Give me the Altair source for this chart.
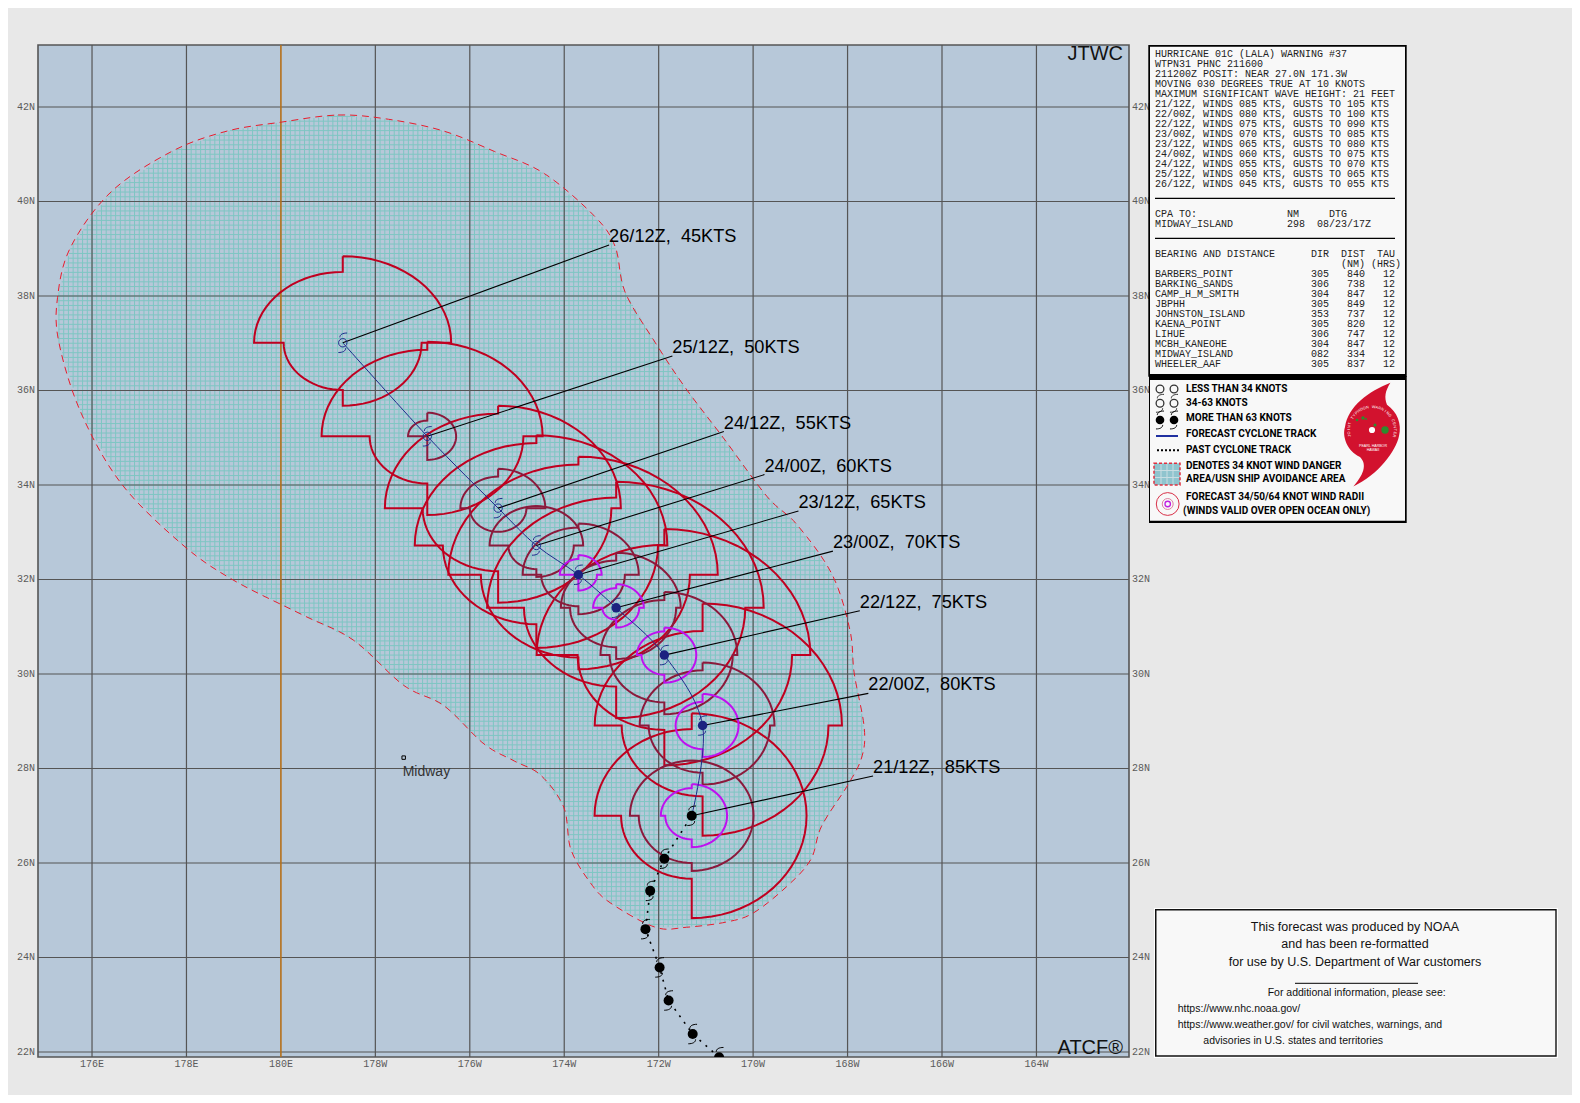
import math
import numpy as np
import pandas as pd
import altair as alt

alt.data_transformers.disable_max_rows()

# ---- frame -------------------------------------------------------------
OX, OY = 38, 45          # page position of the plot area
W, H = 1091, 1012
LON_DOMAIN = [174.856, 197.96]
LAT_DOMAIN = [21.894, 43.312]
BG = "#E8E8E8"
SEA = "#B7C8D9"

grid_lon = [176, 178, 180, 182, 184, 186, 188, 190, 192, 194, 196]
grid_lat = [22, 24, 26, 28, 30, 32, 34, 36, 38, 40, 42]
lon_names = ["176E", "178E", "180E", "178W", "176W", "174W", "172W", "170W", "168W", "166W", "164W"]
lat_names = ["22N", "24N", "26N", "28N", "30N", "32N", "34N", "36N", "38N", "40N", "42N"]

# ---- 34 kt danger area boundary ------------------------------------------
danger_lon = [180.01, 181.21, 182.28, 183.45, 184.52, 185.58, 186.65, 187.08, 187.29, 187.93, 188.57,
              189.36, 190.30, 190.92, 191.67, 192.05, 192.14, 192.35, 192.31, 192.03, 191.45, 191.22,
              190.71, 190.00, 189.43, 188.59, 187.93, 186.97, 186.54, 186.14, 185.99, 185.50, 184.94,
              184.30, 183.45, 182.60, 181.53, 180.46, 178.97, 177.90, 176.62, 175.77, 175.30, 175.27,
              175.55, 176.41, 177.69, 178.86]
danger_lat = [41.68, 41.83, 41.74, 41.49, 41.06, 40.59, 39.68, 39.04, 38.08, 37.01, 36.05,
              35.01, 33.75, 33.17, 32.11, 30.93, 30.02, 28.89, 28.27, 27.69, 26.78, 26.07,
              25.50, 24.94, 24.75, 24.64, 24.64, 25.16, 25.60, 26.29, 27.18, 27.86, 28.16,
              28.52, 29.33, 29.76, 30.72, 31.25, 32.00, 32.75, 34.03, 35.52, 37.01, 37.97,
              39.04, 40.21, 41.06, 41.49]

# ---- track ----------------------------------------------------------------
past_lon = [189.28, 188.72, 188.21, 188.02, 187.72, 187.82, 188.12, 188.70]
past_lat = [21.89, 22.38, 23.09, 23.79, 24.60, 25.41, 26.09, 27.00]
fc_lon = [188.70, 188.93, 188.12, 187.10, 186.30, 185.41, 184.60, 183.10, 181.31]
fc_lat = [27.00, 28.91, 30.40, 31.40, 32.10, 32.72, 33.51, 35.03, 37.01]
fc_labels = ["21/12Z,  85KTS", "22/00Z,  80KTS", "22/12Z,  75KTS", "23/00Z,  70KTS", "23/12Z,  65KTS",
             "24/00Z,  60KTS", "24/12Z,  55KTS", "25/12Z,  50KTS", "26/12Z,  45KTS"]
lead_lon = [192.54, 192.44, 192.26, 191.69, 190.96, 190.24, 189.38, 188.29, 186.95]
lead_lat = [27.84, 29.59, 31.34, 32.60, 33.45, 34.22, 35.13, 36.73, 39.08]

# ---- wind radii, nautical miles, NE / SE / SW / NW -------------------------
r34 = [[130, 130, 80, 110], [155, 140, 90, 120], [160, 140, 95, 140], [160, 140, 100, 140], [150, 120, 105, 140],
       [140, 130, 100, 130], [130, 120, 80, 120], [120, 100, 60, 110], [110, 80, 60, 90]]
r50 = [[70, 70, 60, 70], [80, 75, 60, 70], [80, 75, 60, 70], [70, 65, 50, 60], [65, 50, 40, 60],
       [50, 40, 30, 50], [50, 30, 30, 40], [30, 30, 0, 20]]
r64 = [[40, 40, 30, 35], [40, 40, 30, 30], [35, 35, 25, 30], [30, 25, 15, 25], [25, 20, 0, 20]]

# ---- side panel text -------------------------------------------------------
info_lines = [
    "HURRICANE 01C (LALA) WARNING #37",
    "WTPN31 PHNC 211600",
    "211200Z POSIT: NEAR 27.0N 171.3W",
    "MOVING 030 DEGREES TRUE AT 10 KNOTS",
    "MAXIMUM SIGNIFICANT WAVE HEIGHT: 21 FEET",
    "21/12Z, WINDS 085 KTS, GUSTS TO 105 KTS",
    "22/00Z, WINDS 080 KTS, GUSTS TO 100 KTS",
    "22/12Z, WINDS 075 KTS, GUSTS TO 090 KTS",
    "23/00Z, WINDS 070 KTS, GUSTS TO 085 KTS",
    "23/12Z, WINDS 065 KTS, GUSTS TO 080 KTS",
    "24/00Z, WINDS 060 KTS, GUSTS TO 075 KTS",
    "24/12Z, WINDS 055 KTS, GUSTS TO 070 KTS",
    "25/12Z, WINDS 050 KTS, GUSTS TO 065 KTS",
    "26/12Z, WINDS 045 KTS, GUSTS TO 055 KTS",
]
cpa_lines = ["CPA TO:               NM     DTG",
             "MIDWAY_ISLAND         298  08/23/17Z"]
bearing_head = "BEARING AND DISTANCE      DIR  DIST  TAU"
bearing_units = "(NM) (HRS)"
bearing_rows = [
    "BARBERS_POINT             305   840   12",
    "BARKING_SANDS             306   738   12",
    "CAMP_H_M_SMITH            304   847   12",
    "JBPHH                     305   849   12",
    "JOHNSTON_ISLAND           353   737   12",
    "KAENA_POINT               305   820   12",
    "LIHUE                     306   747   12",
    "MCBH_KANEOHE              304   847   12",
    "MIDWAY_ISLAND             082   334   12",
    "WHEELER_AAF               305   837   12",
]
legend_lines = ["LESS THAN 34 KNOTS", "34-63 KNOTS", "MORE THAN 63 KNOTS", "FORECAST CYCLONE TRACK",
                "PAST CYCLONE TRACK", "DENOTES 34 KNOT WIND DANGER", "AREA/USN SHIP AVOIDANCE AREA",
                "FORECAST 34/50/64 KNOT WIND RADII", "(WINDS VALID OVER OPEN OCEAN ONLY)"]

ARMS = "M-0.3,-0.55 C-0.3,-0.85 0,-1 0.45,-1 M0.3,0.55 C0.3,0.85 0,1 -0.45,1"
SWIRL = ("M0.306,-0.789 C0.22,-0.65 0.2,-0.55 0.25,-0.42 C0.42,-0.3 0.5,-0.1 0.45,0.1 "
         "C0.4,0.35 0.1,0.75 -0.31,0.94 C-0.1,0.7 -0.1,0.55 -0.2,0.45 C-0.42,0.35 -0.5,0.1 -0.45,-0.05 "
         "C-0.4,-0.4 -0.05,-0.65 0.306,-0.789 Z")
NBSP = "\u00a0"

xs = alt.Scale(domain=LON_DOMAIN, nice=False, zero=False)
ys = alt.Scale(domain=LAT_DOMAIN, nice=False, zero=False)
X = alt.X("lon:Q", scale=xs, axis=None)
Y = alt.Y("lat:Q", scale=ys, axis=None)
one = alt.Data(values=[{"a": 1}])


# ---- helpers -----------------------------------------------------------------
def txt(s, x, y, size=10, font="Liberation Sans", color="#000000", align="left", weight="normal", angle=0):
    return alt.Chart(one).mark_text(text=s, font=font, fontSize=size, color=color, align=align,
                                    baseline="middle", fontWeight=weight, angle=angle).encode(
        x=alt.value(x - OX), y=alt.value(y - OY))


def box(x0, y0, x1, y1, fill, **kw):
    return alt.Chart(one).mark_rect(fill=fill, **kw).encode(
        x=alt.value(x0 - OX), x2=alt.value(x1 - OX), y=alt.value(y0 - OY), y2=alt.value(y1 - OY))


def seg(x0, y0, x1, y1, color="#000000", width=1, **kw):
    return alt.Chart(one).mark_rule(color=color, strokeWidth=width, **kw).encode(
        x=alt.value(x0 - OX), x2=alt.value(x1 - OX), y=alt.value(y0 - OY), y2=alt.value(y1 - OY))


def sym(x, y, shape, size, color, filled=True, width=1):
    kw = dict(shape=shape, size=size, opacity=1)
    if filled:
        kw.update(filled=True, fill=color)
    else:
        kw.update(filled=False, stroke=color, strokeWidth=width)
    return alt.Chart(one).mark_point(**kw).encode(x=alt.value(x - OX), y=alt.value(y - OY))


def rings(table, color):
    rows = []
    for i, radii in enumerate(table):
        clon, clat = fc_lon[i], fc_lat[i]
        coslat = math.cos(math.radians(clat))
        pts = []
        for q, r in enumerate(radii):
            for b in range(q * 90, q * 90 + 91, 5):
                a = math.radians(b)
                pts.append((clon + r / 60 / coslat * math.sin(a), clat + r / 60 * math.cos(a)))
        pts.append(pts[0])
        for k, (lo, la) in enumerate(pts):
            rows.append({"ring": i, "k": k, "lon": lo, "lat": la})
    return alt.Chart(pd.DataFrame(rows)).mark_line(color=color, strokeWidth=2, strokeJoin="miter").encode(
        x=X, y=Y, detail="ring:N", order="k:Q")


# ---- mesh of the danger area ---------------------------------------------------
def crossings(a, b, level):
    out = []
    n = len(a)
    for i in range(n):
        a0, b0, a1, b1 = a[i], b[i], a[(i + 1) % n], b[(i + 1) % n]
        if (b0 <= level) != (b1 <= level):
            out.append(a0 + (level - b0) / (b1 - b0) * (a1 - a0))
    return sorted(out)


h_rows, v_rows = [], []
for la in np.arange(24.6, 42.0, 0.1):
    c = crossings(danger_lon, danger_lat, float(la))
    for p, q in zip(c[0::2], c[1::2]):
        h_rows.append({"lat": float(la), "lon": p, "lon2": q})
for lo in np.arange(175.2, 192.5, 0.1):
    c = crossings(danger_lat, danger_lon, float(lo))
    for p, q in zip(c[0::2], c[1::2]):
        v_rows.append({"lon": float(lo), "lat": p, "lat2": q})

MESH = "#7EC6C3"
mesh_h = alt.Chart(pd.DataFrame(h_rows)).mark_rule(color=MESH, strokeWidth=1).encode(x=X, x2="lon2:Q", y=Y)
mesh_v = alt.Chart(pd.DataFrame(v_rows)).mark_rule(color=MESH, strokeWidth=1).encode(x=X, y=Y, y2="lat2:Q")

danger_df = pd.DataFrame({"lon": danger_lon, "lat": danger_lat, "k": range(len(danger_lon))})
danger_line = alt.Chart(danger_df).mark_line(color="#E81C2C", strokeWidth=1, strokeDash=[7, 5],
                                             interpolate="cardinal-closed").encode(x=X, y=Y, order="k:Q")

# ---- grid and tick labels --------------------------------------------------------
LABEL = dict(font="Liberation Mono", fontSize=10, color="#5A5A5A", baseline="middle")
lon_df = pd.DataFrame({"lon": grid_lon, "s": lon_names})
lat_df = pd.DataFrame({"lat": grid_lat, "s": lat_names})
grid_v = alt.Chart(lon_df[lon_df.lon != 180]).mark_rule(color="#555555", strokeWidth=1.2).encode(x=X)
grid_h = alt.Chart(lat_df).mark_rule(color="#555555", strokeWidth=1.2).encode(y=Y)
date_line = alt.Chart(pd.DataFrame({"lon": [180]})).mark_rule(color="#B5701A", strokeWidth=1.6).encode(x=X)
right_labels = alt.Chart(lat_df).mark_text(align="left", **LABEL).encode(x=alt.value(W + 3), y=Y, text="s:N")
left_labels = alt.Chart(lat_df).mark_text(align="right", **LABEL).encode(x=alt.value(-3), y=Y, text="s:N")
bottom_labels = alt.Chart(lon_df).mark_text(align="center", **LABEL).encode(x=X, y=alt.value(H + 7), text="s:N")

# ---- track and symbols ---------------------------------------------------------
past_df = pd.DataFrame({"lon": past_lon, "lat": past_lat, "k": range(len(past_lon))})
fc_df = pd.DataFrame({"lon": fc_lon, "lat": fc_lat, "k": range(len(fc_lon)),
                      "label": [s.replace(" ", NBSP) for s in fc_labels],
                      "lon2": lead_lon, "lat2": lead_lat})
past_track = alt.Chart(past_df).mark_line(color="#000000", strokeWidth=1.6, strokeDash=[2, 6], clip=True).encode(
    x=X, y=Y, order="k:Q")
fc_track = alt.Chart(fc_df).mark_line(color="#1E2A8C", strokeWidth=1, interpolate="cardinal").encode(
    x=X, y=Y, order="k:Q")
leaders = alt.Chart(fc_df).mark_rule(color="#000000", strokeWidth=1.1).encode(x=X, y=Y, x2="lon2:Q", y2="lat2:Q")
labels = alt.Chart(fc_df).mark_text(font="Liberation Sans", fontSize=18.2, color="#000000", align="left",
                                    baseline="middle", dy=-8).encode(
    x=alt.X("lon2:Q", scale=xs, axis=None), y=alt.Y("lat2:Q", scale=ys, axis=None), text="label:N")

navy_df = fc_df.iloc[1:5][["lon", "lat"]]
open_df = fc_df.iloc[5:][["lon", "lat"]]
marks_sym = [
    alt.Chart(past_df).mark_point(shape=ARMS, size=380, filled=False, stroke="#000000", strokeWidth=1, opacity=1,
                                  clip=True).encode(x=X, y=Y),
    alt.Chart(past_df).mark_circle(size=100, color="#000000", opacity=1, clip=True).encode(x=X, y=Y),
    alt.Chart(navy_df).mark_point(shape=ARMS, size=380, filled=False, stroke="#1E2A8C", strokeWidth=1,
                                  opacity=1).encode(x=X, y=Y),
    alt.Chart(navy_df).mark_circle(size=90, color="#1C2280", opacity=1).encode(x=X, y=Y),
    alt.Chart(open_df).mark_point(shape=ARMS, size=380, filled=False, stroke="#1E2A8C", strokeWidth=1,
                                  opacity=1).encode(x=X, y=Y),
    alt.Chart(open_df).mark_point(shape="circle", size=70, filled=False, stroke="#1E2A8C", strokeWidth=1,
                                  opacity=1).encode(x=X, y=Y),
]

midway_df = pd.DataFrame({"lon": [182.6], "lat": [28.23]})
midway = [
    alt.Chart(midway_df).mark_point(shape="square", size=12, filled=False, stroke="#000000", strokeWidth=1,
                                    opacity=1).encode(x=X, y=Y),
    alt.Chart(midway_df).mark_text(text="Midway", font="Liberation Sans", fontSize=14, color="#333333",
                                   align="left", baseline="middle", dx=-1, dy=14).encode(x=X, y=Y),
]

# ---- text panels -----------------------------------------------------------------
panels = [box(1148.3, 45, 1406.7, 376.7, "#000000"), box(1150, 46.7, 1405, 374, "#F8F8F8")]
MONO = dict(font="Liberation Mono", size=10, color="#222222")


def mono(s, y, x=1155):
    return txt(s.replace(" ", NBSP), x, y, **MONO)


for i, s in enumerate(info_lines):
    panels.append(mono(s, 54 + 10 * i))
panels.append(seg(1155, 198.3, 1395, 198.3, width=1.2))
for i, s in enumerate(cpa_lines):
    panels.append(mono(s, 214 + 10 * i))
panels.append(seg(1155, 238.3, 1395, 238.3, width=1.2))
panels.append(mono(bearing_head, 253.7))
panels.append(mono(bearing_units, 263.7, x=1341))
for i, s in enumerate(bearing_rows):
    panels.append(mono(s, 274 + 10 * i))

panels += [box(1149, 376, 1406.7, 523, "#000000"), box(1150, 380, 1405, 520.7, "#F8F8F8")]
leg_y = [389.3, 403.3, 417.7, 434.3, 450, 466, 479.3, 496.7, 510.7]
leg_x = [1186, 1186, 1186, 1186, 1186, 1186, 1186, 1186, 1183]
for s, x, y in zip(legend_lines, leg_x, leg_y):
    panels.append(txt(s, x, y, size=10, font="Roboto", weight="bold"))
for cx in (1160, 1174):
    panels.append(sym(cx, 389, "circle", 60, "#333333", filled=False, width=1.3))
    panels.append(sym(cx, 403.3, "circle", 60, "#333333", filled=False, width=1.3))
    panels.append(sym(cx, 403.3, ARMS, 320, "#333333", filled=False, width=1))
    panels.append(sym(cx, 420, ARMS, 320, "#111111", filled=False, width=1))
    panels.append(sym(cx, 420, "circle", 75, "#000000"))
panels.append(seg(1156, 436, 1178, 436, color="#2030A0", width=2))
panels.append(seg(1157, 450.3, 1180, 450.3, color="#000000", width=2, strokeDash=[2, 2]))
panels.append(box(1154, 463.3, 1180, 485, "#8FC4CE", stroke="#E03040", strokeDash=[3, 2], strokeWidth=1.5))
for gy in (470.5, 477.5):
    panels.append(seg(1155, gy, 1179, gy, color="#C8DDE2", width=1))
for gx in (1161, 1167, 1173):
    panels.append(seg(gx, 464, gx, 484, color="#C8DDE2", width=1))
panels.append(sym(1167.7, 504, "circle", 520, "#D83048", filled=False, width=1))
panels.append(sym(1167.7, 504, "circle", 120, "#E080A0", filled=False, width=1))
panels.append(sym(1167.7, 504, "circle", 30, "#C020E0", filled=False, width=1.3))
# logo
LX, LY = 1372, 430
panels.append(sym(LX, LY, SWIRL, 14400, "#D2122E"))
panels.append(sym(LX + 0.5, LY + 0.5, "circle", 2290, "#D2122E"))
for dx, dy, sz in [(13, 0, 55), (-9, -12, 12), (-15, -10, 7), (3, -5, 9), (-6, -11, 4)]:
    panels.append(sym(LX + dx, LY + dy, "circle", sz, "#2E8B2E"))
panels.append(sym(LX, LY, "circle", 38, "#FFFFFF"))
panels.append(txt("PEARL HARBOR", LX + 1, LY + 16, size=3.6, color="#FFFFFF", align="center"))
panels.append(txt("HAWAII", LX + 1, LY + 20, size=3.6, color="#FFFFFF", align="center"))
arc_text = "JOINT TYPHOON WARNING CENTER"
for i, ch in enumerate(arc_text):
    if ch == " ":
        continue
    deg = -105 + 210 * i / (len(arc_text) - 1)
    a = math.radians(deg)
    panels.append(txt(ch, LX + 23 * math.sin(a), LY - 23 * math.cos(a), size=3.8, color="#FFFFFF", align="center",
                      angle=deg % 360))

panels += [box(1154, 908, 1558, 1058, "#FFFFFF"), box(1155, 909, 1556.7, 1056.7, "#111111"),
           box(1156.5, 910.5, 1555.3, 1055.2, "#F8F8F8")]
ARIAL = "Liberation Sans"
for s, y in [("This forecast was produced by NOAA", 926.7), ("and has been re-formatted", 944.3),
             ("for use by U.S. Department of War customers", 961.7)]:
    panels.append(txt(s, 1355, y, size=12.5, font=ARIAL, align="center", color="#111111"))
panels.append(seg(1295, 983.3, 1418, 983.3, width=1))
panels.append(txt("For additional information, please see:", 1356.7, 993.3, size=10.5, font=ARIAL,
                  align="center", color="#111111"))
for s, x, y in [("https://www.nhc.noaa.gov/", 1177.7, 1009.3),
                ("https://www.weather.gov/ for civil watches, warnings, and", 1177.7, 1025),
                ("advisories in U.S. states and territories", 1203.3, 1040.7)]:
    panels.append(txt(s, x, y, size=10.5, font=ARIAL, color="#111111"))

corner = [txt("JTWC", 1123, 53.5, size=20, align="right", color="#111111"),
          txt("ATCF®", 1123, 1048, size=20, align="right", color="#111111")]

chart = alt.layer(
    mesh_h, mesh_v, grid_v, grid_h, date_line, left_labels, right_labels, bottom_labels, danger_line,
    rings(r34, "#C00020"), rings(r50, "#8B1A3C"), rings(r64, "#BF10F0"),
    past_track, fc_track, leaders, *marks_sym, labels, *midway, *corner, *panels,
).properties(
    width=W, height=H,
    padding={"left": OX - 8, "top": OY - 8, "right": 1564 - (OX - 8) - W, "bottom": 1087 - (OY - 8) - H},
    autosize=alt.AutoSizeParams(type="none"),
    background=BG,
).configure_view(fill=SEA, stroke="#555555", strokeWidth=1.6)

chart.save("out.html", embed_options={"renderer": "svg", "actions": False})
